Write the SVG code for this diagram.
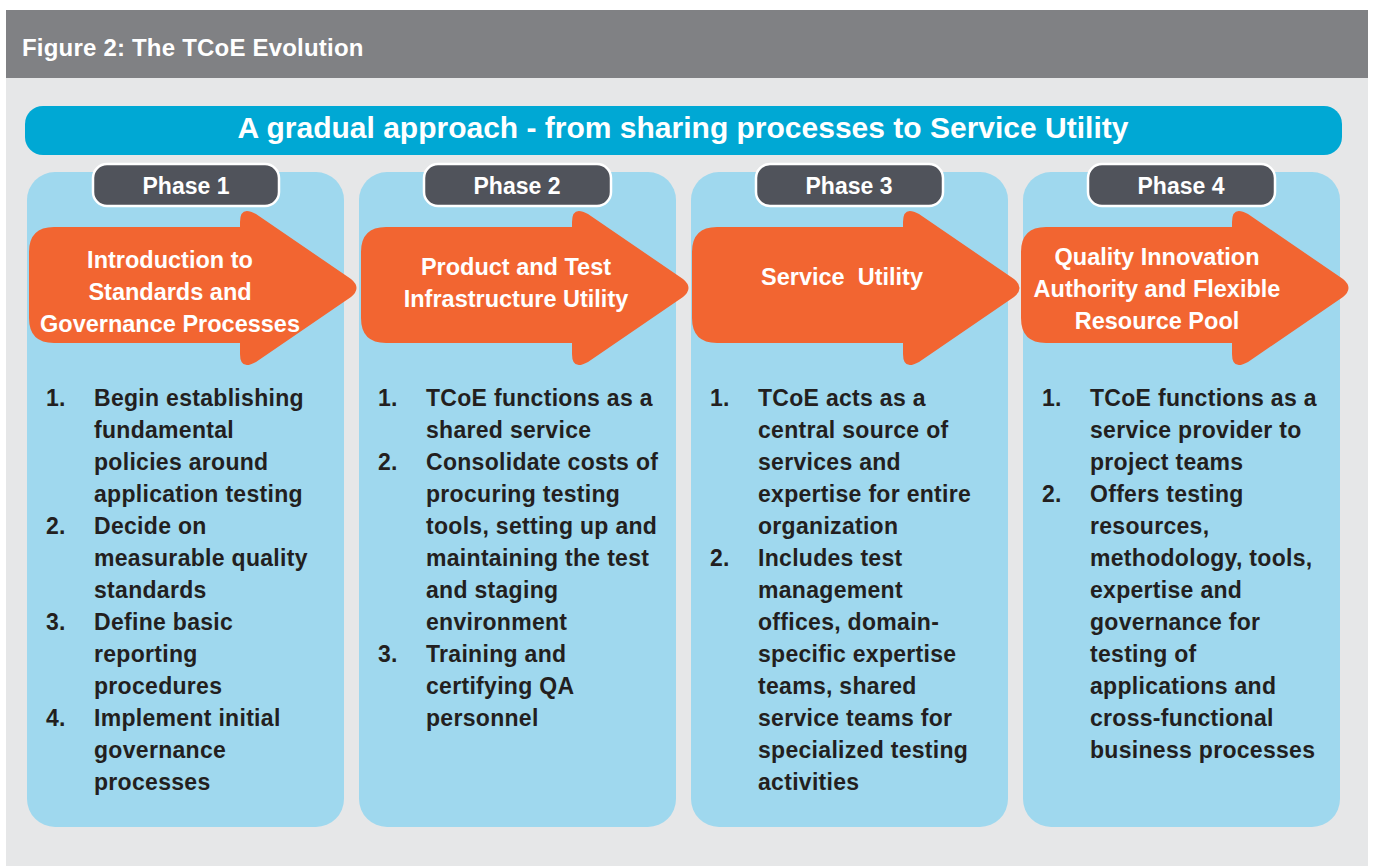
<svg xmlns="http://www.w3.org/2000/svg" xmlns:xlink="http://www.w3.org/1999/xlink" width="1373" height="866" viewBox="0 0 1373 866">
<style>
text{font-family:"Liberation Sans",Arial,sans-serif;font-weight:bold}
.title{font-size:24px;fill:#ffffff;letter-spacing:0.2px}
.banner-t{font-size:30px;fill:#ffffff;text-anchor:middle}
.panel{fill:#9fd8ee}
.tab{fill:#50535b;stroke:#ffffff;stroke-width:2.5}
.tab-t{font-size:23px;fill:#ffffff;text-anchor:middle}
.arrow{fill:#f26531}
.arrow-t{font-size:23.5px;fill:#ffffff;text-anchor:middle}
.item{font-size:23px;fill:#231f20;letter-spacing:0.3px}
</style>
<defs>
<path id="arrowShape" d="M 54 227 L 240 227 L 240 222 Q 240 205 256 214 L 351 279 Q 362 288 351 297 L 256 362 Q 240 371 240 354 L 240 343 L 54 343 Q 29 343 29 318 L 29 252 Q 29 227 54 227 Z"/>
</defs>
<rect x="0" y="0" width="1373" height="866" fill="#ffffff"/>
<g id="header">
<rect x="6" y="78" width="1362" height="788" fill="#e6e7e8"/>
<rect x="6" y="10" width="1362" height="68" fill="#808184"/>
<text class="title" x="22" y="56">Figure 2: The TCoE Evolution</text>
</g>
<g id="banner">
<rect x="25" y="106" width="1317" height="49" rx="18" fill="#00a8d4"/>
<text class="banner-t" x="683" y="138">A gradual approach - from sharing processes to Service Utility</text>
</g>
<g id="connectors"/>
<g id="phase1">
<rect class="panel" x="27" y="172" width="317" height="655" rx="28"/>
<rect class="tab" x="93" y="164" width="186" height="42" rx="14"/>
<text class="tab-t" x="186" y="194">Phase 1</text>
<use xlink:href="#arrowShape" class="arrow"/>
<text class="arrow-t" x="170" y="268">Introduction to</text>
<text class="arrow-t" x="170" y="300">Standards and</text>
<text class="arrow-t" x="170" y="332">Governance Processes</text>
<text class="item" x="46" y="406">1.</text>
<text class="item" x="94" y="406">Begin establishing</text>
<text class="item" x="94" y="438">fundamental</text>
<text class="item" x="94" y="470">policies around</text>
<text class="item" x="94" y="502">application testing</text>
<text class="item" x="46" y="534">2.</text>
<text class="item" x="94" y="534">Decide on</text>
<text class="item" x="94" y="566">measurable quality</text>
<text class="item" x="94" y="598">standards</text>
<text class="item" x="46" y="630">3.</text>
<text class="item" x="94" y="630">Define basic</text>
<text class="item" x="94" y="662">reporting</text>
<text class="item" x="94" y="694">procedures</text>
<text class="item" x="46" y="726">4.</text>
<text class="item" x="94" y="726">Implement initial</text>
<text class="item" x="94" y="758">governance</text>
<text class="item" x="94" y="790">processes</text>
</g>
<g id="phase2">
<rect class="panel" x="359" y="172" width="317" height="655" rx="28"/>
<rect class="tab" x="424" y="164" width="187" height="42" rx="14"/>
<text class="tab-t" x="517" y="194">Phase 2</text>
<use xlink:href="#arrowShape" class="arrow" transform="translate(332,0)"/>
<text class="arrow-t" x="516" y="275">Product and Test</text>
<text class="arrow-t" x="516" y="307">Infrastructure Utility</text>
<text class="item" x="378" y="406">1.</text>
<text class="item" x="426" y="406">TCoE functions as a</text>
<text class="item" x="426" y="438">shared service</text>
<text class="item" x="378" y="470">2.</text>
<text class="item" x="426" y="470">Consolidate costs of</text>
<text class="item" x="426" y="502">procuring testing</text>
<text class="item" x="426" y="534">tools, setting up and</text>
<text class="item" x="426" y="566">maintaining the test</text>
<text class="item" x="426" y="598">and staging</text>
<text class="item" x="426" y="630">environment</text>
<text class="item" x="378" y="662">3.</text>
<text class="item" x="426" y="662">Training and</text>
<text class="item" x="426" y="694">certifying QA</text>
<text class="item" x="426" y="726">personnel</text>
</g>
<g id="phase3">
<rect class="panel" x="691" y="172" width="317" height="655" rx="28"/>
<rect class="tab" x="756" y="164" width="187" height="42" rx="14"/>
<text class="tab-t" x="849" y="194">Phase 3</text>
<use xlink:href="#arrowShape" class="arrow" transform="translate(663,0)"/>
<text class="arrow-t" x="842" y="285" xml:space="preserve">Service  Utility</text>
<text class="item" x="710" y="406">1.</text>
<text class="item" x="758" y="406">TCoE acts as a</text>
<text class="item" x="758" y="438">central source of</text>
<text class="item" x="758" y="470">services and</text>
<text class="item" x="758" y="502">expertise for entire</text>
<text class="item" x="758" y="534">organization</text>
<text class="item" x="710" y="566">2.</text>
<text class="item" x="758" y="566">Includes test</text>
<text class="item" x="758" y="598">management</text>
<text class="item" x="758" y="630">offices, domain-</text>
<text class="item" x="758" y="662">specific expertise</text>
<text class="item" x="758" y="694">teams, shared</text>
<text class="item" x="758" y="726">service teams for</text>
<text class="item" x="758" y="758">specialized testing</text>
<text class="item" x="758" y="790">activities</text>
</g>
<g id="phase4">
<rect class="panel" x="1023" y="172" width="317" height="655" rx="28"/>
<rect class="tab" x="1088" y="164" width="187" height="42" rx="14"/>
<text class="tab-t" x="1181" y="194">Phase 4</text>
<use xlink:href="#arrowShape" class="arrow" transform="translate(992,0)"/>
<text class="arrow-t" x="1157" y="265">Quality Innovation</text>
<text class="arrow-t" x="1157" y="297">Authority and Flexible</text>
<text class="arrow-t" x="1157" y="329">Resource Pool</text>
<text class="item" x="1042" y="406">1.</text>
<text class="item" x="1090" y="406">TCoE functions as a</text>
<text class="item" x="1090" y="438">service provider to</text>
<text class="item" x="1090" y="470">project teams</text>
<text class="item" x="1042" y="502">2.</text>
<text class="item" x="1090" y="502">Offers testing</text>
<text class="item" x="1090" y="534">resources,</text>
<text class="item" x="1090" y="566">methodology, tools,</text>
<text class="item" x="1090" y="598">expertise and</text>
<text class="item" x="1090" y="630">governance for</text>
<text class="item" x="1090" y="662">testing of</text>
<text class="item" x="1090" y="694">applications and</text>
<text class="item" x="1090" y="726">cross-functional</text>
<text class="item" x="1090" y="758">business processes</text>
</g>
</svg>
